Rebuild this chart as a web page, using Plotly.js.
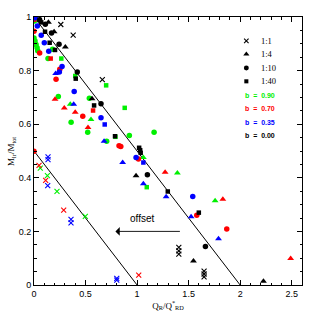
<!DOCTYPE html>
<html><head><meta charset="utf-8">
<script src="https://cdn.plot.ly/plotly-3.0.1.min.js"></script>
<style>html,body{margin:0;padding:0;background:#fff}#chart{width:319px;height:319px}</style>
</head><body><div id="chart"></div>
<script>
// ---- b = 0.90 (green) ----
const g_circ_x = [0.005, 0.0, 0.01, 0.02, 0.03, 0.036, 0.136, 0.18, 0.236, 0.36, 0.521, 0.537, 0.705, 0.925, 1.165];
const g_circ_y = [0.985, 0.922, 0.91, 0.897, 0.885, 0.874, 0.845, 0.88, 0.703, 0.607, 0.57, 0.697, 0.536, 0.558, 0.57];
const g_sq_x = [0.265, 0.40, 0.70, 0.88, 0.79, 1.094];
const g_sq_y = [0.845, 0.78, 0.745, 0.661, 0.553, 0.365];
const g_tri_x = [0.352, 0.553, 1.061, 1.391, 1.757];
const g_tri_y = [0.674, 0.618, 0.476, 0.418, 0.314];
const g_x_x = [0.061, 0.13, 0.223, 0.498];
const g_x_y = [0.436, 0.408, 0.349, 0.256];
// ---- b = 0.70 (red) ----
const r_circ_x = [0.0, 0.055, 0.25, 0.214, 0.473, 0.825, 0.842, 1.013, 1.579, 1.87, 0.0];
const r_circ_y = [0.947, 0.866, 0.805, 0.768, 0.63, 0.52, 0.517, 0.47, 0.26, 0.209, 0.499];
const r_sq_x = [0.003, 0.162, 0.573];
const r_sq_y = [0.99, 0.845, 0.651];
const r_tri_x = [0.204, 0.294, 0.40, 0.524, 1.272, 1.832, 2.49];
const r_tri_y = [0.693, 0.66, 0.645, 0.588, 0.421, 0.32, 0.099];
const r_x_x = [0.049, 0.113, 0.288, 1.016];
const r_x_y = [0.446, 0.39, 0.279, 0.037];
// ---- b = 0.35 (blue) ----
const b_circ_x = [0.013, 0.032, 0.07, 0.1, 0.143, 0.272, 0.246, 0.39, 0.65, 0.99, 1.54];
const b_circ_y = [0.997, 0.966, 0.932, 0.904, 0.872, 0.815, 0.795, 0.722, 0.624, 0.476, 0.33];
const b_sq_x = [0.686, 1.061];
const b_sq_y = [0.599, 0.457];
const b_tri_x = [0.21, 0.385, 0.68, 0.86, 1.061, 1.282, 1.524, 1.79];
const b_tri_y = [0.789, 0.674, 0.536, 0.457, 0.378, 0.329, 0.255, 0.173];
const b_x_x = [0.136, 0.136, 0.133, 0.359, 0.359, 0.803, 0.803];
const b_x_y = [0.478, 0.468, 0.371, 0.245, 0.232, 0.025, 0.018];
// ---- b = 0.00 (black) ----
const k_circ_x = [0.055, 0.11, 0.17, 0.243, 0.42, 0.65, 1.1, 1.663];
const k_circ_y = [0.99, 0.973, 0.94, 0.898, 0.795, 0.676, 0.411, 0.144];
const k_sq_x = [0.07, 0.107, 0.152, 0.204, 0.405, 0.583, 0.786, 1.02, 1.03, 1.035, 1.298, 1.599];
const k_sq_y = [0.98, 0.945, 0.904, 0.877, 0.77, 0.67, 0.555, 0.512, 0.503, 0.493, 0.349, 0.27];
const k_tri_x = [0.14, 0.195, 0.304, 0.563, 0.99, 1.547, 2.226];
const k_tri_y = [0.98, 0.945, 0.888, 0.695, 0.408, 0.09, 0.014];
const k_x_x = [0.26, 0.38, 0.663, 1.405, 1.405, 1.405, 1.65, 1.65, 1.65];
const k_x_y = [0.972, 0.932, 0.766, 0.14, 0.127, 0.115, 0.052, 0.041, 0.03];
// ---- reference lines ----
const line1_x = [0, 2], line1_y = [1, 0];
const line2_x = [0, 1], line2_y = [0.5, 0];
// ---- legend ----
const ratioLabels = ['1:1', '1:4', '1:10', '1:40'];
const ratioSymbols = ['x-thin', 'triangle-up', 'circle', 'square'];
const ratioKeyY = [0.911, 0.861, 0.810, 0.760];
const bLabels = ['b&nbsp;&nbsp;=&nbsp;&nbsp;0.90', 'b&nbsp;&nbsp;=&nbsp;&nbsp;0.70', 'b&nbsp;&nbsp;=&nbsp;&nbsp;0.35', 'b&nbsp;&nbsp;=&nbsp;&nbsp;0.00'];
const bColors = ['#00f000', '#ff0000', '#0000ff', '#000000'];
const bKeyY = [0.707, 0.657, 0.607, 0.557];
const legendKeyX = 2.06, legendTextX = 2.18;

const SIZES = {'x-thin': 5, 'triangle-up': 6, 'circle': 5.5, 'square': 4.5};
function mk(x, y, color, symbol) {
  const m = {color: color, symbol: symbol, size: SIZES[symbol]};
  m.line = symbol === 'x-thin' ? {color: color, width: 1.1} : {width: 0};
  return {x: x, y: y, type: 'scatter', mode: 'markers', marker: m, showlegend: false, hoverinfo: 'skip'};
}
const G = bColors[0], R = bColors[1], B = bColors[2], K = bColors[3];
const traces = [
  {x: line1_x, y: line1_y, type: 'scatter', mode: 'lines', line: {color: '#000', width: 1}, showlegend: false},
  {x: line2_x, y: line2_y, type: 'scatter', mode: 'lines', line: {color: '#000', width: 1}, showlegend: false},
  mk(g_circ_x, g_circ_y, G, 'circle'), mk(g_sq_x, g_sq_y, G, 'square'), mk(g_tri_x, g_tri_y, G, 'triangle-up'), mk(g_x_x, g_x_y, G, 'x-thin'),
  mk(r_circ_x, r_circ_y, R, 'circle'), mk(r_sq_x, r_sq_y, R, 'square'), mk(r_tri_x, r_tri_y, R, 'triangle-up'), mk(r_x_x, r_x_y, R, 'x-thin'),
  mk(b_circ_x, b_circ_y, B, 'circle'), mk(b_sq_x, b_sq_y, B, 'square'), mk(b_tri_x, b_tri_y, B, 'triangle-up'), mk(b_x_x, b_x_y, B, 'x-thin'),
  mk(k_circ_x, k_circ_y, K, 'circle'), mk(k_sq_x, k_sq_y, K, 'square'), mk(k_tri_x, k_tri_y, K, 'triangle-up'), mk(k_x_x, k_x_y, K, 'x-thin')
];
// legend keys
ratioSymbols.forEach((s, i) => {
  const t = mk([legendKeyX], [ratioKeyY[i]], '#000', s);
  t.marker.size = SIZES[s] * 0.9;
  t.cliponaxis = false;
  traces.push(t);
});

const annotations = [];
ratioLabels.forEach((t, i) => annotations.push({
  x: legendTextX, y: ratioKeyY[i], xref: 'x', yref: 'y', text: t, showarrow: false,
  xanchor: 'left', yanchor: 'middle', font: {family: 'Liberation Serif, serif', size: 8.5, color: '#000'}
}));
bLabels.forEach((t, i) => annotations.push({
  x: legendKeyX - 0.03, y: bKeyY[i], xref: 'x', yref: 'y', text: '<b>' + t + '</b>', showarrow: false,
  xanchor: 'left', yanchor: 'middle', font: {family: 'Liberation Sans, Arial, sans-serif', size: 7, color: bColors[i]}
}));
annotations.push({
  x: 0.79, y: 0.2, ax: 1.43, ay: 0.2, xref: 'x', yref: 'y', axref: 'x', ayref: 'y',
  showarrow: true, arrowhead: 1, arrowsize: 1.6, arrowwidth: 0.9, arrowcolor: '#000', text: ''
});
annotations.push({
  x: 1.05, y: 0.247, xref: 'x', yref: 'y', text: 'offset', showarrow: false,
  font: {family: 'Liberation Sans, Arial, sans-serif', size: 10, color: '#000'}
});
// y-axis title placed precisely
annotations.push({
  x: -0.086, y: 0.5, xref: 'paper', yref: 'paper', text: 'M<sub>lr</sub>/M<sub>tot</sub>',
  textangle: -90, showarrow: false, xanchor: 'center', yanchor: 'middle',
  font: {family: 'Liberation Serif, serif', size: 9, color: '#000'}
});

const axisCommon = {
  showline: true, mirror: 'ticks', linecolor: '#000', linewidth: 1,
  ticks: 'inside', ticklen: 5, tickwidth: 1, tickcolor: '#000',
  showgrid: false, zeroline: false,
  tickfont: {family: 'Liberation Sans, Arial, sans-serif', size: 9, color: '#000'}
};
const layout = {
  width: 319, height: 319,
  margin: {l: 34, r: 17, t: 17, b: 34},
  paper_bgcolor: '#fff', plot_bgcolor: '#fff',
  showlegend: false,
  xaxis: Object.assign({}, axisCommon, {
    range: [0, 2.6], tick0: 0, dtick: 0.5,
    minor: {dtick: 0.1, ticks: 'inside', ticklen: 2.5, tickwidth: 1, tickcolor: '#000'},
    title: {text: 'Q<sub>R</sub>/Q<sup>*</sup><sub>RD</sub>', standoff: 4,
            font: {family: 'Liberation Serif, serif', size: 9, color: '#000'}}
  }),
  yaxis: Object.assign({}, axisCommon, {
    range: [0, 1], tick0: 0, dtick: 0.2,
    minor: {dtick: 0.05, ticks: 'inside', ticklen: 2.5, tickwidth: 1, tickcolor: '#000'}
  }),
  annotations: annotations
};
Plotly.newPlot('chart', traces, layout, {staticPlot: true, displayModeBar: false});
</script>
</body></html>
